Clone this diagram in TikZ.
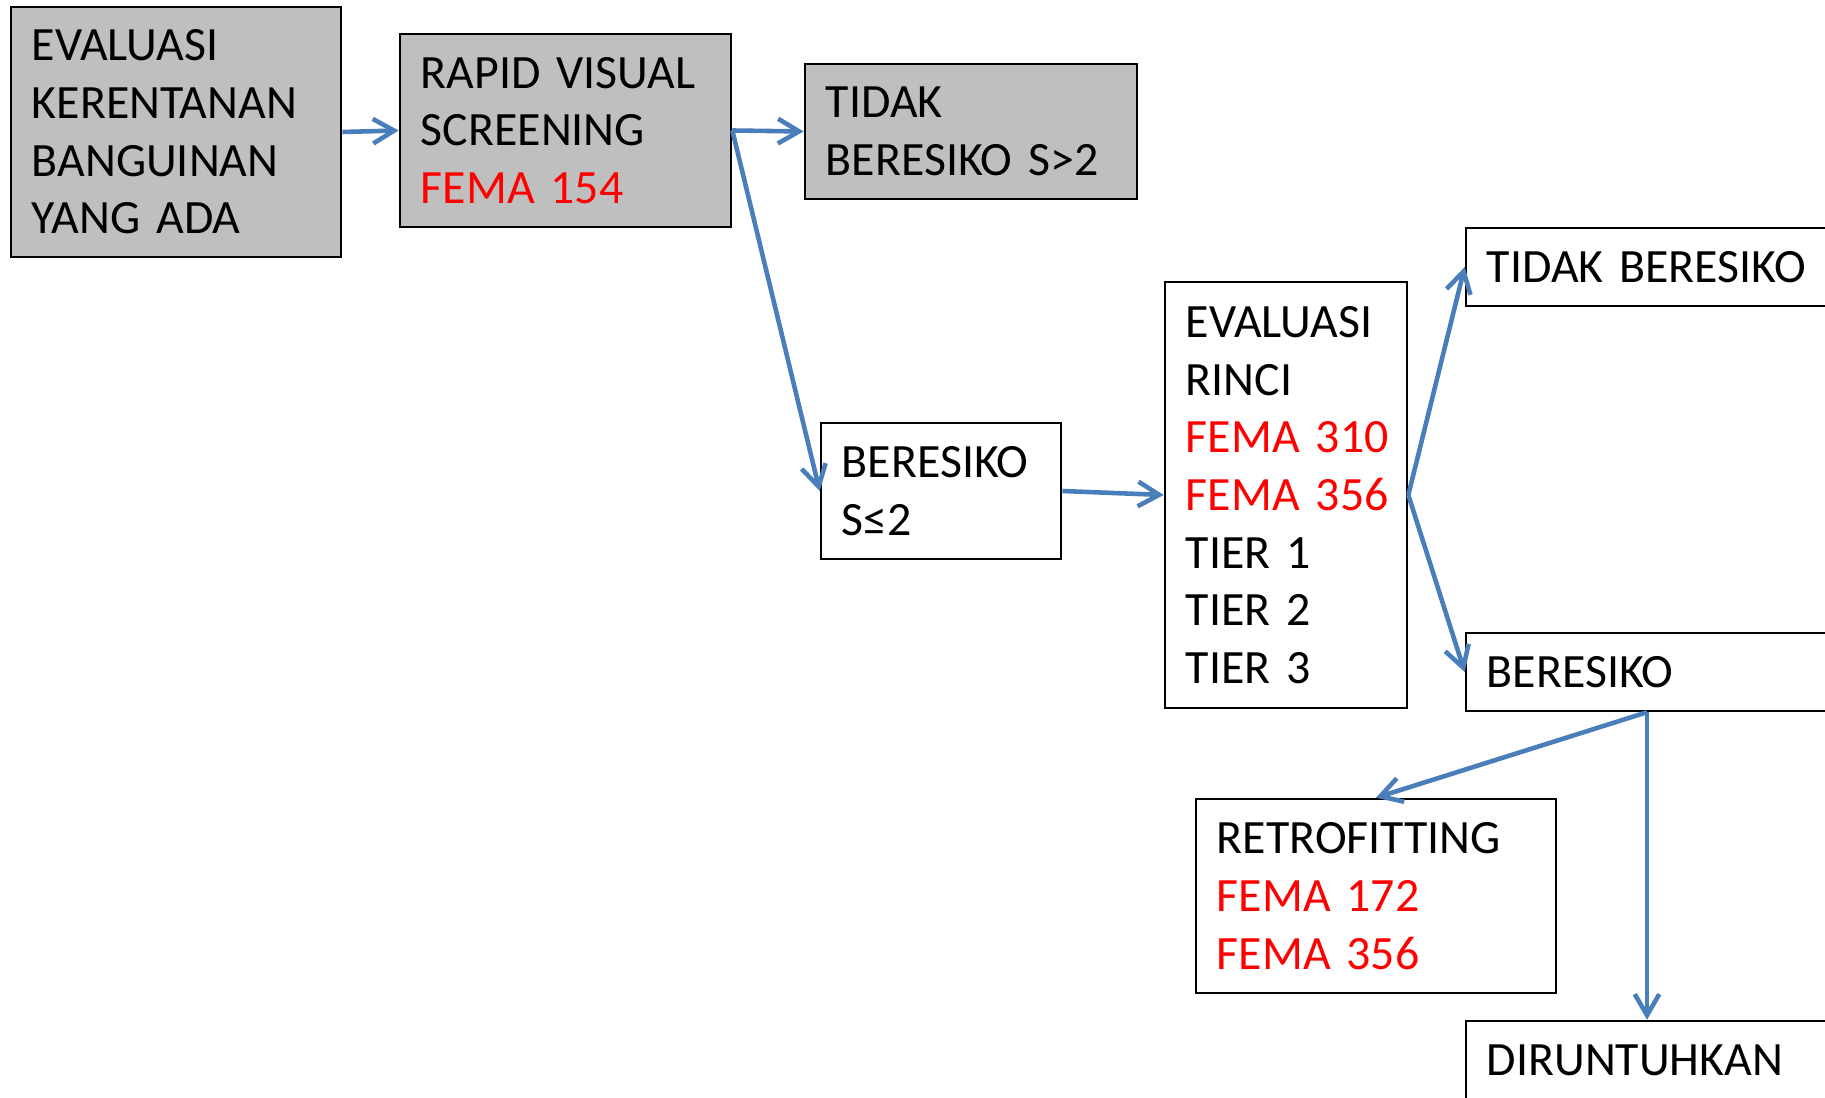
\documentclass[tikz,border=0pt]{standalone}
\usepackage{fontspec}
\setmainfont{Carlito}
\usepackage{tikz}
\usetikzlibrary{arrows.meta}
\usepackage{xcolor}
\definecolor{boxgray}{HTML}{BFBFBF}
\definecolor{arrowblue}{HTML}{4A7EBB}
\definecolor{femared}{HTML}{FF0000}
\newcommand{\fema}[1]{\textcolor{femared}{FEMA~#1}}

\begin{document}
\begin{tikzpicture}[x=0.01cm,y=-0.01cm,
    box/.style={draw,line width=0.7pt,align=left,inner xsep=0.21cm,inner ysep=0pt,
      font=\fontsize{13.6}{16.4}\selectfont},
    graybox/.style={box,fill=boxgray},
    arr/.style={draw=arrowblue,line width=1.3pt,-{Straight Barb[length=6pt,width=7pt]}}]
  \useasboundingbox (0,0) rectangle (1825,1098);

  \node [graybox,text width=2.88cm,minimum height=2.50cm] (evaluasi) at (176,132)
    {EVALUASI\\KERENTANAN\\BANGUINAN\\YANG ADA};
  \node [graybox,text width=2.89cm,minimum height=1.93cm] (rvs) at (565.5,130.5)
    {RAPID VISUAL\\SCREENING\\\fema{154}};
  \node [graybox,text width=2.90cm,minimum height=1.35cm] (aman) at (971,131.5)
    {TIDAK\\BERESIKO S>2};

  \node [box,text width=1.98cm,minimum height=1.36cm] (resiko) at (941,491)
    {BERESIKO\\S≤2};
  \node [box,text width=2.00cm,minimum height=4.26cm] (rinci) at (1286,495)
    {EVALUASI\\RINCI\\\fema{310}\\\fema{356}\\TIER~1\\TIER~2\\TIER~3};

  \node [box,text width=3.20cm,minimum height=0.78cm] (tidak) at (1647,267)
    {TIDAK BERESIKO};
  \node [box,text width=3.20cm,minimum height=0.78cm] (beresiko) at (1647,672)
    {BERESIKO};
  \node [box,text width=3.18cm,minimum height=1.94cm] (retrofit) at (1376,896)
    {RETROFITTING\\\fema{172}\\\fema{356}};
  \node [box,text width=3.20cm,minimum height=0.78cm] (runtuh) at (1647,1060)
    {DIRUNTUHKAN};

  \draw [arr] (evaluasi.east) -- (rvs.west);
  \draw [arr] (rvs.east) -- (aman.west);
  \draw [arr] (rvs.east) -- (resiko.west);
  \draw [arr] (resiko.east) -- (rinci.west);
  \draw [arr] (rinci.east) -- (tidak.west);
  \draw [arr] (rinci.east) -- (beresiko.west);
  \draw [arr] (beresiko.south) -- (retrofit.north);
  \draw [arr] (beresiko.south) -- (runtuh.north);
\end{tikzpicture}
\end{document}
